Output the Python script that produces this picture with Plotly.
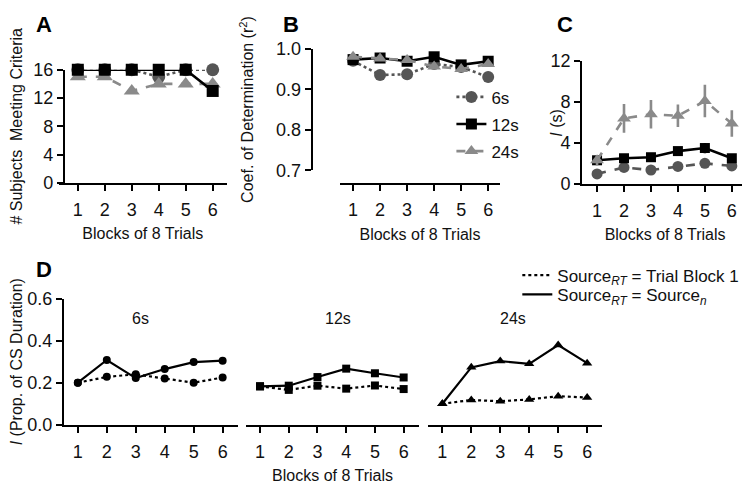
import plotly.graph_objects as go

# ---------------- data ----------------
blocks = [1, 2, 3, 4, 5, 6]
tick_labels = ["1", "2", "3", "4", "5", "6"]

# Panel A: # subjects meeting criteria
a_6s = [16, 16, 16, 15, 16, 16]
a_12s = [16, 16, 16, 16, 16, 13]
a_24s = [15, 15, 13, 14, 14, 14]

# Panel B: coefficient of determination
b_6s = [0.970, 0.935, 0.937, 0.962, 0.955, 0.930]
b_6s_err = [0.008, 0.012, 0.012, 0.010, 0.010, 0.013]
b_12s = [0.973, 0.977, 0.969, 0.980, 0.960, 0.969]
b_12s_err = [0.006, 0.006, 0.007, 0.006, 0.006, 0.006]
b_24s = [0.980, 0.976, 0.972, 0.956, 0.950, 0.962]
b_24s_err = [0.005, 0.006, 0.006, 0.007, 0.007, 0.007]

# Panel C: I (s)
c_6s = [0.97, 1.60, 1.35, 1.70, 2.00, 1.75]
c_6s_err = [0.20, 0.30, 0.30, 0.30, 0.30, 0.20]
c_12s = [2.30, 2.50, 2.60, 3.20, 3.50, 2.50]
c_12s_err = [0.30, 0.30, 0.40, 0.40, 0.50, 0.30]
c_24s = [2.30, 6.40, 6.80, 6.65, 8.10, 5.90]
c_24s_err = [0.50, 1.40, 1.40, 1.10, 1.60, 1.30]

# Panel D: I (prop. of CS duration)
d6_rt1 = [0.200, 0.228, 0.240, 0.220, 0.200, 0.225]
d6_rtn = [0.200, 0.308, 0.222, 0.265, 0.298, 0.305]
d12_rt1 = [0.183, 0.166, 0.186, 0.172, 0.187, 0.170]
d12_rtn = [0.183, 0.186, 0.227, 0.267, 0.245, 0.225]
d24_rt1 = [0.100, 0.118, 0.112, 0.121, 0.136, 0.130]
d24_rtn = [0.100, 0.273, 0.303, 0.290, 0.379, 0.293]

series_names = ["6s", "12s", "24s"]
legend_d = ["Source<sub><i>RT</i></sub> = Trial Block 1",
            "Source<sub><i>RT</i></sub> = Source<sub><i>n</i></sub>"]

# ---------------- styling ----------------
# page body has an 8px margin, so the figure is drawn 8px in from the window edge
OFF = 8
W, H = 750 - OFF, 489 - OFF
FONT = "Liberation Sans, Arial, Helvetica, sans-serif"
C6, C12, C24 = "#555555", "#000000", "#8a8a8a"
TICK = 18
TITLE = 16


def px(x):
    return (x - OFF) / W


def py(y):
    return 1 - (y - OFF) / H


fig = go.Figure()


def add(x, y, xa, ya, color, dash, symbol, size, err=None, name=None,
        showlegend=False, legend="legend", lw=2.6, group=None):
    fig.add_trace(go.Scatter(
        x=x, y=y, xaxis=xa, yaxis=ya, mode="lines+markers",
        line=dict(color=color, width=lw, dash=dash),
        marker=dict(color=color, symbol=symbol, size=size),
        error_y=(dict(type="data", array=err, color=color, thickness=2.6, width=0)
                 if err is not None else None),
        name=name, showlegend=showlegend, legend=legend, legendgroup=group,
        cliponaxis=False))


# Panel A
add(blocks, a_6s, "x", "y", C6, "dot", "circle", 13)
add(blocks, a_24s, "x", "y", C24, "dash", "triangle-up", 14)
add(blocks, a_12s, "x", "y", C12, "solid", "square", 12)

# Panel B
add(blocks, b_6s, "x2", "y2", C6, "dot", "circle", 12, b_6s_err, "6s", True, group="g1")
add(blocks, b_12s, "x2", "y2", C12, "solid", "square", 11, b_12s_err, "12s", True, group="g2")
add(blocks, b_24s, "x2", "y2", C24, "dash", "triangle-up", 12, b_24s_err, "24s", True, group="g3")

# Panel C
add(blocks, c_6s, "x3", "y3", C6, "dash", "circle", 11, c_6s_err)
add(blocks, c_12s, "x3", "y3", C12, "solid", "square", 10, c_12s_err)
add(blocks, c_24s, "x3", "y3", C24, "dash", "triangle-up", 12, c_24s_err)

# Panel D
add(blocks, d6_rt1, "x4", "y4", C12, "dot", "circle", 8, lw=2.2)
add(blocks, d6_rtn, "x4", "y4", C12, "solid", "circle", 8, lw=2.2)
add(blocks, d12_rt1, "x5", "y4", C12, "dot", "square", 8, lw=2.2)
add(blocks, d12_rtn, "x5", "y4", C12, "solid", "square", 8, lw=2.2)
add(blocks, d24_rt1, "x6", "y4", C12, "dot", "triangle-up", 9, lw=2.2)
add(blocks, d24_rtn, "x6", "y4", C12, "solid", "triangle-up", 9, lw=2.2)

# legend entries for panel D (line style only), one legend box per line
for nm, dash, lg in zip(legend_d, ["dot", "solid"], ["legend2", "legend3"]):
    fig.add_trace(go.Scatter(x=[None], y=[None], xaxis="x4", yaxis="y4", mode="lines",
                             line=dict(color="black", width=2.2, dash=dash),
                             name=nm, showlegend=True, legend=lg))

axis_common = dict(showline=True, linecolor="black", linewidth=2, ticks="outside",
                   tickcolor="black", tickwidth=2, ticklen=6, showgrid=False,
                   zeroline=False, tickfont=dict(size=TICK, color="#111", family=FONT),
                   title_font=dict(size=TITLE, color="#111", family=FONT))

xcommon = dict(axis_common, tickmode="array", tickvals=blocks, ticktext=tick_labels,
               ticklabelstandoff=4)

legend_font = dict(size=17, family=FONT, color="#111")

fig.update_layout(
    width=W, height=H, margin=dict(l=0, r=0, t=0, b=0),
    paper_bgcolor="white", plot_bgcolor="white",
    font=dict(family=FONT, color="black"),
    xaxis=dict(xcommon, domain=[px(58), px(226)], range=[0.3, 6.52], anchor="y",
               title=dict(text="Blocks of 8 Trials", standoff=8)),
    yaxis=dict(axis_common, domain=[py(180), py(62)], range=[0, 16], dtick=4,
               anchor="free", position=px(63),
               title=dict(text="# Subjects  Meeting Criteria", standoff=9)),
    xaxis2=dict(xcommon, domain=[px(339), px(500)], range=[0.5, 6.45], anchor="free",
                position=py(181), title=dict(text="Blocks of 8 Trials", standoff=8)),
    yaxis2=dict(axis_common, domain=[py(167), py(40)], range=[0.7, 1.0], dtick=0.1,
                tickformat=".1f", anchor="free", position=px(311),
                title=dict(text="Coef. of Determination (r<sup>2</sup>)", standoff=17)),
    xaxis3=dict(xcommon, domain=[px(582), px(748)], range=[0.45, 6.6], anchor="y3",
                title=dict(text="Blocks of 8 Trials", standoff=8)),
    yaxis3=dict(axis_common, domain=[py(181), py(53)], range=[0, 12], dtick=4,
                anchor="x3"),
    xaxis4=dict(xcommon, domain=[px(63), px(237)], range=[0.52, 6.52], anchor="y4"),
    xaxis5=dict(xcommon, domain=[px(245), px(419)], range=[0.5, 6.55], anchor="y4",
                title=dict(text="Blocks of 8 Trials", standoff=8)),
    xaxis6=dict(xcommon, domain=[px(428), px(602)], range=[0.52, 6.52], anchor="y4"),
    yaxis4=dict(axis_common, domain=[py(432.5), py(300.7)], range=[0, 0.6], dtick=0.2,
                tickformat=".1f", anchor="x4",
                title=dict(text="<i>I</i> (Prop. of CS Duration)", standoff=8)),
    legend=dict(x=px(451), y=py(72), xanchor="left", yanchor="top",
                bgcolor="rgba(0,0,0,0)", font=legend_font,
                traceorder="grouped", tracegroupgap=2, itemwidth=30),
    legend2=dict(x=px(517), y=py(258), xanchor="left", yanchor="top",
                 bgcolor="rgba(0,0,0,0)", font=legend_font, itemwidth=30),
    legend3=dict(x=px(517), y=py(278), xanchor="left", yanchor="top",
                 bgcolor="rgba(0,0,0,0)", font=legend_font, itemwidth=30),
)

ann = []
for letter, x, y in [("A", 43, 15), ("B", 290, 15), ("C", 565, 15), ("D", 43, 270)]:
    ann.append(dict(text="<b>" + letter + "</b>", x=px(x), y=py(y), xref="paper",
                    yref="paper", showarrow=False,
                    font=dict(size=22, family=FONT, color="black"),
                    xanchor="center", yanchor="middle"))
for lbl, x in zip(series_names, [140, 337, 513]):
    ann.append(dict(text=lbl, x=px(x), y=py(322), xref="paper", yref="paper",
                    showarrow=False, font=dict(size=16, family=FONT, color="#111"),
                    xanchor="center", yanchor="middle"))
# panel C y-axis title sits close to the single-digit tick labels
ann.append(dict(text="<i>I</i> (s)", x=px(556), y=py(117), xref="paper", yref="paper",
                showarrow=False, textangle=-90,
                font=dict(size=TITLE, family=FONT, color="#111"),
                xanchor="center", yanchor="middle"))
fig.update_layout(annotations=ann)

fig.write_html("out.html")
